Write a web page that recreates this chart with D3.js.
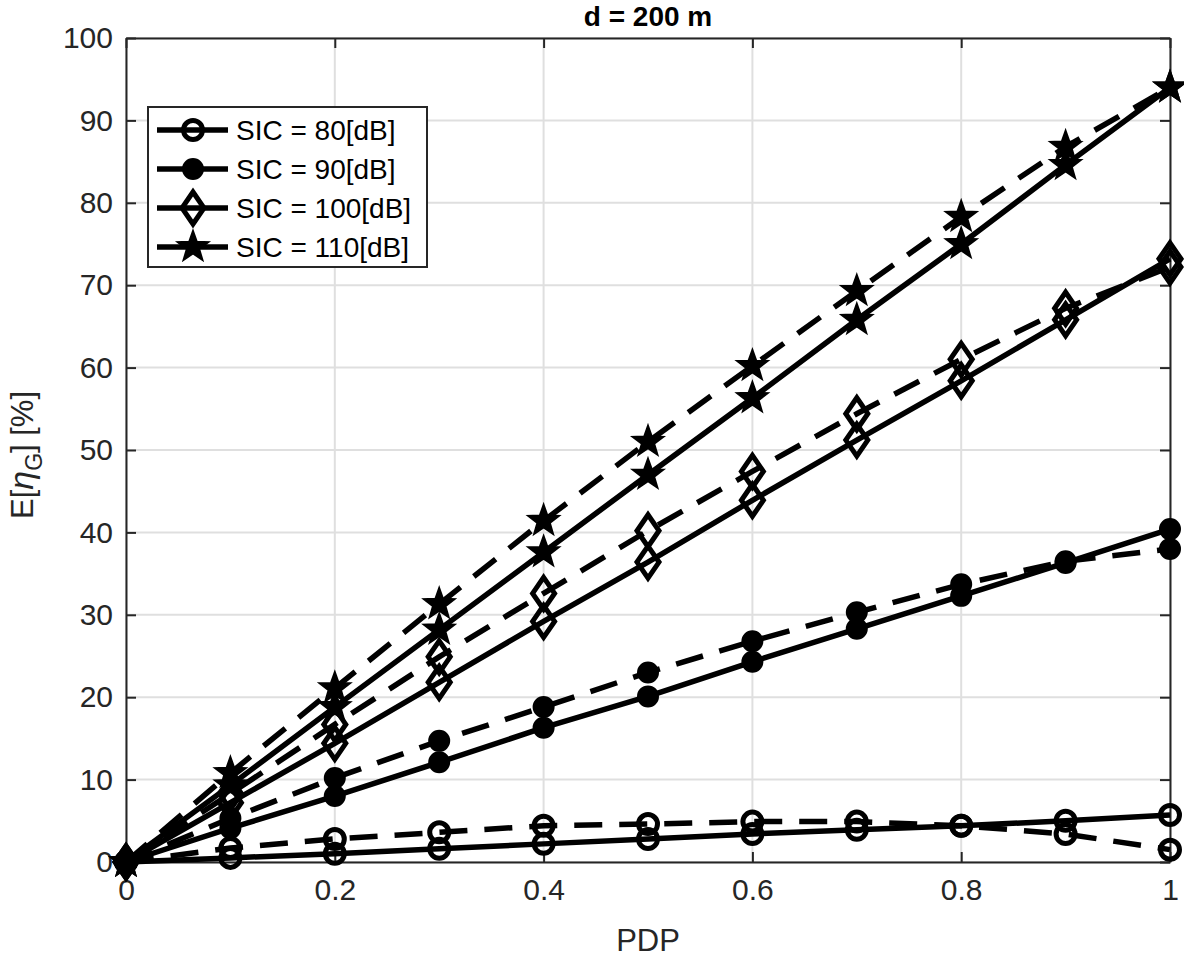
<!DOCTYPE html>
<html>
<head>
<meta charset="utf-8">
<script src="https://cdn.jsdelivr.net/npm/d3@7"></script>
<style>
  body { margin: 0; background: #fff; }
  svg { display: block; font-family: "Liberation Sans", Arial, Helvetica, sans-serif; }
</style>
</head>
<body>
<svg id="chart" width="1184" height="957"></svg>
<script>
// ---- data ----
const pdp = [0, 0.1, 0.2, 0.3, 0.4, 0.5, 0.6, 0.7, 0.8, 0.9, 1.0];
const sic80Solid  = [0, 0.5, 1.0, 1.6, 2.2, 2.8, 3.4, 3.9, 4.4, 5.0, 5.7];
const sic80Dashed = [0, 1.7, 2.8, 3.6, 4.4, 4.6, 4.9, 4.9, 4.4, 3.4, 1.5];
const sic90Solid  = [0, 4.1, 8.0, 12.1, 16.3, 20.1, 24.3, 28.3, 32.3, 36.3, 40.4];
const sic90Dashed = [0, 5.3, 10.2, 14.7, 18.8, 23.0, 26.8, 30.3, 33.7, 36.5, 38.0];
const sic100Solid  = [0, 7.2, 14.4, 21.8, 29.2, 36.4, 43.9, 51.2, 58.4, 65.8, 73.2];
const sic100Dashed = [0, 8.3, 16.7, 24.9, 32.6, 40.2, 47.4, 54.4, 61.0, 67.2, 72.2];
const sic110Solid  = [0, 9.3, 18.8, 28.2, 37.6, 47.0, 56.3, 65.8, 75.0, 84.6, 94.0];
const sic110Dashed = [0, 10.8, 21.1, 31.3, 41.4, 51.0, 60.2, 69.3, 78.3, 86.8, 94.0];
const legendLabels = ["SIC = 80[dB]", "SIC = 90[dB]", "SIC = 100[dB]", "SIC = 110[dB]"];
const xTicks = [0, 0.2, 0.4, 0.6, 0.8, 1];
const xTickLabels = ["0", "0.2", "0.4", "0.6", "0.8", "1"];
const yTicks = [0, 10, 20, 30, 40, 50, 60, 70, 80, 90, 100];
const titleText = "d = 200 m";
const xLabel = "PDP";

const series = [
  { values: sic80Solid,  marker: "circleOpen", dashed: false },
  { values: sic80Dashed, marker: "circleOpen", dashed: true },
  { values: sic90Solid,  marker: "circleFilled", dashed: false },
  { values: sic90Dashed, marker: "circleFilled", dashed: true },
  { values: sic100Solid,  marker: "diamond", dashed: false },
  { values: sic100Dashed, marker: "diamond", dashed: true },
  { values: sic110Solid,  marker: "star", dashed: false },
  { values: sic110Dashed, marker: "star", dashed: true }
];
const legendMarkers = ["circleOpen", "circleFilled", "diamond", "star"];

// ---- layout ----
const svg = d3.select("#chart");
const L = 126, R = 1170, T = 38, B = 862;
const x = d3.scaleLinear().domain([0, 1]).range([L, R]);
const y = d3.scaleLinear().domain([0, 100]).range([B, T]);
const axisColor = "#262626";
const fontStack = "'Liberation Sans', Arial, Helvetica, sans-serif";

// grid
const grid = svg.append("g");
grid.selectAll("line.gx").data(xTicks).enter().append("line")
  .attr("x1", d => x(d)).attr("x2", d => x(d)).attr("y1", T).attr("y2", B)
  .attr("stroke", "#dfdfdf").attr("stroke-width", 2);
grid.selectAll("line.gy").data(yTicks).enter().append("line")
  .attr("x1", L).attr("x2", R).attr("y1", d => y(d)).attr("y2", d => y(d))
  .attr("stroke", "#dfdfdf").attr("stroke-width", 2);

// axes with inward ticks
const xAxisB = d3.axisBottom(x).tickValues(xTicks).tickFormat((d, i) => xTickLabels[i]).tickSizeInner(-10).tickSizeOuter(0).tickPadding(17);
const xAxisT = d3.axisTop(x).tickValues(xTicks).tickFormat("").tickSizeInner(-10).tickSizeOuter(0);
const yAxisL = d3.axisLeft(y).tickValues(yTicks).tickSizeInner(-10).tickSizeOuter(0).tickPadding(13);
const yAxisR = d3.axisRight(y).tickValues(yTicks).tickFormat("").tickSizeInner(-10).tickSizeOuter(0);

function styleAxis(g) {
  g.select(".domain").attr("stroke", axisColor).attr("stroke-width", 2);
  g.selectAll(".tick line").attr("stroke", axisColor).attr("stroke-width", 2);
  g.selectAll(".tick text").attr("fill", "#262626").style("font-size", "30px")
    .style("font-family", fontStack);
}
svg.append("g").attr("transform", `translate(0,${B})`).call(xAxisB).call(styleAxis);
svg.append("g").attr("transform", `translate(0,${T})`).call(xAxisT).call(styleAxis);
svg.append("g").attr("transform", `translate(${L},0)`).call(yAxisL).call(styleAxis);
svg.append("g").attr("transform", `translate(${R},0)`).call(yAxisR).call(styleAxis);

// markers
function drawMarker(g, type, cx, cy) {
  if (type === "circleOpen") {
    g.append("circle").attr("cx", cx).attr("cy", cy).attr("r", 9.5)
      .attr("fill", "none").attr("stroke", "#000").attr("stroke-width", 5);
  } else if (type === "circleFilled") {
    g.append("circle").attr("cx", cx).attr("cy", cy).attr("r", 10)
      .attr("fill", "#000").attr("stroke", "#000").attr("stroke-width", 2);
  } else if (type === "diamond") {
    const w = 11, h = 16;
    g.append("path").attr("d", `M${cx},${cy - h}L${cx + w},${cy}L${cx},${cy + h}L${cx - w},${cy}Z`)
      .attr("fill", "none").attr("stroke", "#000").attr("stroke-width", 5).attr("stroke-linejoin", "miter");
  } else if (type === "star") {
    const ro = 16, ri = 6.5;
    let p = "";
    for (let k = 0; k < 10; k++) {
      const r = k % 2 === 0 ? ro : ri;
      const a = -Math.PI / 2 + k * Math.PI / 5;
      p += (k === 0 ? "M" : "L") + (cx + r * Math.cos(a)).toFixed(2) + "," + (cy + r * Math.sin(a)).toFixed(2);
    }
    g.append("path").attr("d", p + "Z").attr("fill", "#000").attr("stroke", "#000").attr("stroke-width", 2);
  }
}

const line = d3.line().x((d, i) => x(pdp[i])).y(d => y(d));
const plot = svg.append("g");
series.forEach(s => {
  plot.append("path").datum(s.values).attr("d", line)
    .attr("fill", "none").attr("stroke", "#000").attr("stroke-width", 5.5)
    .attr("stroke-dasharray", s.dashed ? "28,17" : null);
  const mg = plot.append("g");
  s.values.forEach((v, i) => drawMarker(mg, s.marker, x(pdp[i]), y(v)));
});

// title & labels
svg.append("text").attr("x", (L + R) / 2).attr("y", 26).attr("text-anchor", "middle")
  .style("font-size", "28px").style("font-weight", "bold").attr("fill", "#000").text(titleText);
svg.append("text").attr("x", (L + R) / 2).attr("y", 951).attr("text-anchor", "middle")
  .style("font-size", "31px").attr("fill", "#262626").text(xLabel);
const yl = svg.append("text").attr("transform", `translate(33,455) rotate(-90)`)
  .attr("text-anchor", "middle").style("font-size", "31px").attr("fill", "#262626");
yl.append("tspan").text("E[");
yl.append("tspan").style("font-style", "italic").style("font-size", "34px").text("η");
yl.append("tspan").attr("dy", 9).style("font-size", "23px").text("G");
yl.append("tspan").attr("dy", -9).text("] [%]");

// legend
const lg = svg.append("g");
lg.append("rect").attr("x", 148).attr("y", 107).attr("width", 279).attr("height", 160)
  .attr("fill", "#fff").attr("stroke", "#262626").attr("stroke-width", 2);
legendLabels.forEach((lab, i) => {
  const cy = 130 + i * 39;
  lg.append("line").attr("x1", 157).attr("x2", 228).attr("y1", cy).attr("y2", cy)
    .attr("stroke", "#000").attr("stroke-width", 5.5);
  drawMarker(lg, legendMarkers[i], 193, cy);
  lg.append("text").attr("x", 236).attr("y", cy + 10).style("font-size", "28px")
    .attr("fill", "#000").text(lab);
});
</script>
</body>
</html>
